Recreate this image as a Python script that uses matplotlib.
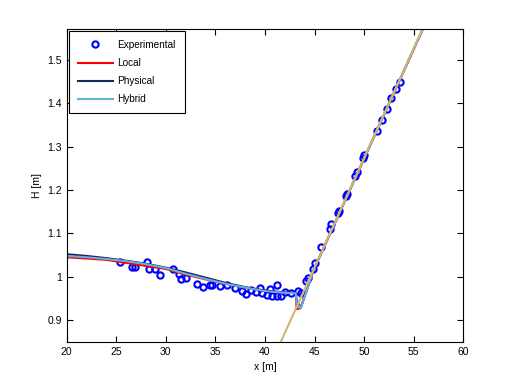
import matplotlib
matplotlib.use("Agg")
import matplotlib.pyplot as plt

x_exp = [25.4, 26.6, 26.9, 28.1, 28.3, 28.9, 29.4, 30.7, 31.3, 31.5, 32.0, 33.1,
         33.8, 34.5, 34.7, 35.5, 36.2, 37.0, 37.7, 38.1, 38.6, 39.1, 39.5, 39.7,
         40.2, 40.5, 40.7, 41.2, 41.2, 41.6, 42.0, 42.6, 43.3, 43.6, 44.1, 44.3,
         44.8, 45.0, 45.6, 46.6, 46.65, 47.4, 47.5, 48.2, 48.3, 49.05, 49.25,
         49.85, 50.0, 51.3, 51.8, 52.3, 52.7, 53.2, 53.6]
H_exp = [1.034, 1.023, 1.023, 1.033, 1.017, 1.019, 1.003, 1.018, 1.007, 0.994, 0.996, 0.984,
         0.976, 0.980, 0.980, 0.978, 0.980, 0.974, 0.967, 0.961, 0.970, 0.964, 0.974, 0.963,
         0.957, 0.971, 0.955, 0.955, 0.980, 0.955, 0.965, 0.963, 0.967, 0.963, 0.990, 0.998,
         1.019, 1.032, 1.069, 1.111, 1.121, 1.147, 1.151, 1.186, 1.192, 1.233, 1.241,
         1.273, 1.282, 1.336, 1.361, 1.386, 1.413, 1.433, 1.449]

# model results
x_mod = [20, 22, 24, 26, 28, 30, 32, 34, 36, 38, 40, 42, 43.1, 43.2, 43.6, 44.9, 56.5]
H_local = [1.045, 1.042, 1.039, 1.032, 1.025, 1.018, 1.005, 0.994, 0.984, 0.975, 0.968, 0.963,
           0.962, 0.925, 0.928, 1.0155, 1.601]
H_physical = [1.052, 1.048, 1.043, 1.037, 1.030, 1.021, 1.010, 0.998, 0.986, 0.976, 0.968, 0.964,
              0.963, 0.945, 0.928, 1.0155, 1.601]
H_hybrid = [1.048, 1.045, 1.041, 1.036, 1.029, 1.020, 1.007, 0.995, 0.984, 0.975, 0.967, 0.963,
            0.962, 0.940, 0.927, 1.0155, 1.601]

# bed line
x_bed = [41.6, 55.9]
H_bed = [0.85, 1.572]

plt.rcParams['font.family'] = ['Liberation Sans', 'DejaVu Sans']
plt.rcParams['font.size'] = 7.5

fig = plt.figure(figsize=(5.12, 3.84), dpi=100)
ax = fig.add_axes([0.13, 0.11, 0.775, 0.815])

ax.plot(x_exp, H_exp, 'o', mfc='none', mec='#0000ff', mew=1.5, ms=4.5, label='Experimental')
ax.plot(x_mod, H_local, color='#ff0000', lw=1.5, label='Local')
ax.plot(x_mod, H_physical, color='#14285a', lw=1.5, label='Physical')
ax.plot(x_mod, H_hybrid, color='#64afe1', lw=1.5, label='Hybrid')
ax.plot(x_bed, H_bed, color='#d2b478', lw=1.5)

ax.set_xlim(20, 60)
ax.set_ylim(0.85, 1.572)
ax.set_xticks(range(20, 61, 5))
ax.set_yticks([0.9, 1.0, 1.1, 1.2, 1.3, 1.4, 1.5])
ax.set_yticklabels(['0.9', '1', '1.1', '1.2', '1.3', '1.4', '1.5'])
ax.tick_params(direction='in', length=4, top=True, right=True, width=0.8)
for s in ax.spines.values():
    s.set_linewidth(0.8)
ax.set_xlabel('x [m]')
ax.set_ylabel('H [m]')

leg = ax.legend(loc='upper left', fancybox=False, edgecolor='black', framealpha=1,
                fontsize=7.2, handlelength=3.5, handletextpad=0.5, borderpad=0.9,
                labelspacing=0.82, borderaxespad=0.2)
leg.get_frame().set_linewidth(0.8)

fig.savefig('out.png', dpi=100)
